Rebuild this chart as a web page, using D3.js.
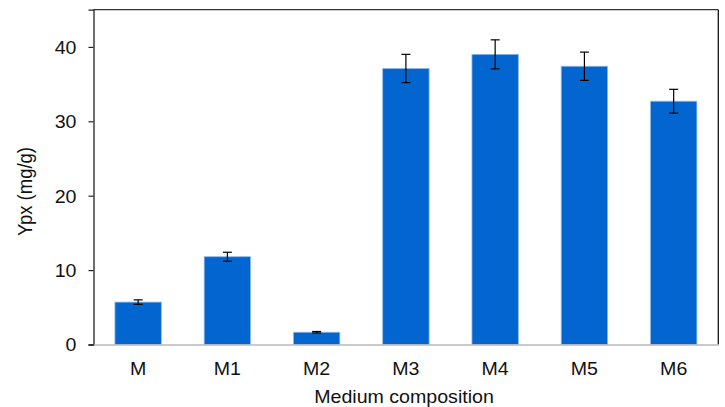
<!DOCTYPE html>
<html>
<head>
<meta charset="utf-8">
<script src="https://cdn.jsdelivr.net/npm/d3@7"></script>
<style>
  html, body { margin: 0; padding: 0; background: #fff; }
  svg { display: block; }
  text { font-family: "Liberation Sans", Arial, sans-serif; fill: #111; }
</style>
</head>
<body>
<svg id="chart" width="725" height="407"></svg>
<script>
// Yield per medium composition, with standard deviation
const categories = ["M", "M1", "M2", "M3", "M4", "M5", "M6"];
const ypx = [5.7, 11.8, 1.65, 37.1, 39.0, 37.4, 32.7];
const ypxErr = [0.3, 0.6, 0.1, 1.9, 1.95, 1.9, 1.6];
const yTicks = [0, 10, 20, 30, 40];

const svg = d3.select("#chart");
const plotLeft = 93.5, plotRight = 718.3, plotTop = 9.7, plotBottom = 344.5;
const fontSize = 18.5;
const stretch = 1.06; // horizontal widening of the label glyphs

const x = d3.scaleBand()
  .domain(categories)
  .range([plotLeft, plotRight])
  .paddingInner(0.48)
  .paddingOuter(0.24);

const y = d3.scaleLinear()
  .domain([0, 45])
  .range([plotBottom, plotTop]);

// Bars
svg.append("g").selectAll("rect")
  .data(categories)
  .join("rect")
  .attr("x", d => x(d))
  .attr("width", x.bandwidth())
  .attr("y", (d, i) => y(ypx[i]))
  .attr("height", (d, i) => y(0) - y(ypx[i]))
  .attr("fill", "#0366d0")
  .attr("stroke", "#8fbbe8")
  .attr("stroke-width", 0.8);

// Error bars
const err = svg.append("g").attr("stroke", "#000").attr("stroke-width", 1.2);
categories.forEach((c, i) => {
  const cx = x(c) + x.bandwidth() / 2;
  const y1 = y(ypx[i] + ypxErr[i]), y2 = y(ypx[i] - ypxErr[i]);
  err.append("line").attr("x1", cx).attr("x2", cx).attr("y1", y1).attr("y2", y2);
  err.append("line").attr("x1", cx - 4.5).attr("x2", cx + 4.5).attr("y1", y1).attr("y2", y1);
  err.append("line").attr("x1", cx - 4.5).attr("x2", cx + 4.5).attr("y1", y2).attr("y2", y2);
});

// Frame: top and right edges
svg.append("line").attr("x1", plotLeft).attr("x2", plotRight).attr("y1", plotTop).attr("y2", plotTop)
  .attr("stroke", "#333").attr("stroke-width", 1.3);
svg.append("line").attr("x1", plotRight).attr("x2", plotRight).attr("y1", plotTop).attr("y2", plotBottom)
  .attr("stroke", "#111").attr("stroke-width", 1.3);

// Y axis
const yAxis = svg.append("g")
  .attr("transform", `translate(${plotLeft},0)`)
  .call(d3.axisLeft(y).tickValues(yTicks).tickSize(5).tickPadding(6));
yAxis.select(".domain").attr("stroke", "#222").attr("stroke-width", 1.3);
yAxis.selectAll(".tick line").attr("stroke", "#222").attr("stroke-width", 1.2);
yAxis.selectAll(".tick text")
  .attr("font-size", fontSize)
  .attr("font-family", null)
  .attr("fill", null)
  .attr("dy", "0.35em")
  .attr("transform", `scale(${stretch},1)`)
  .attr("x", -17 / stretch);

// X axis
const xAxis = svg.append("g")
  .attr("transform", `translate(0,${plotBottom})`)
  .call(d3.axisBottom(x).tickSize(0).tickPadding(18));
xAxis.select(".domain").attr("stroke", "#b8b8b8").attr("stroke-width", 1.5);
xAxis.selectAll(".tick text")
  .attr("font-size", fontSize)
  .attr("font-family", null)
  .attr("fill", null)
  .attr("dy", null)
  .attr("y", 30.5)
  .attr("transform", `scale(${stretch},1)`);

// Axis titles
svg.append("text")
  .attr("transform", `translate(404,403) scale(${stretch},1)`)
  .attr("text-anchor", "middle")
  .attr("font-size", fontSize)
  .text("Medium composition");

svg.append("text")
  .attr("transform", `translate(31.5,191.5) rotate(-90) scale(1,${stretch})`)
  .attr("text-anchor", "middle")
  .attr("font-size", fontSize)
  .text("Ypx (mg/g)");
</script>
</body>
</html>
